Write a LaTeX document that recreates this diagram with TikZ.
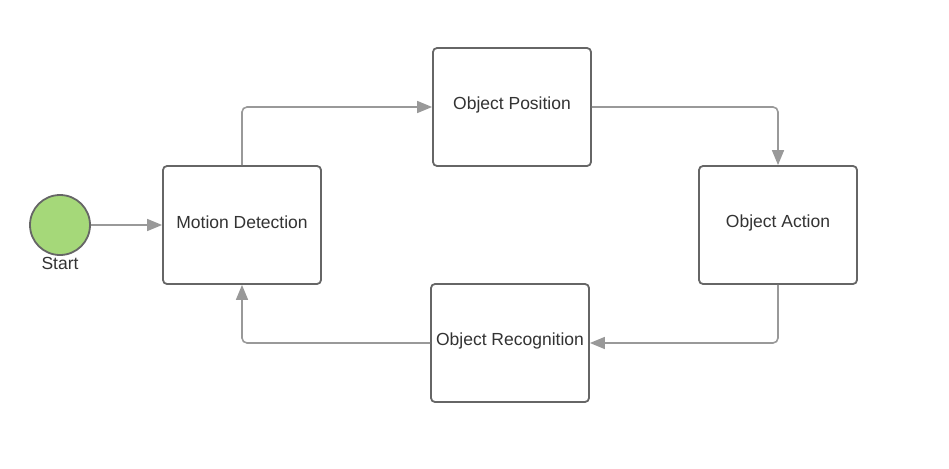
\documentclass[tikz,border=0pt]{standalone}
\usepackage{fontspec}
\setmainfont{Liberation Sans}
\usetikzlibrary{arrows.meta}
\definecolor{linegray}{HTML}{999999}
\definecolor{boxgray}{HTML}{666666}
\definecolor{startgreen}{HTML}{A5D879}
\definecolor{txt}{HTML}{333333}
\newcommand{\up}[1]{\raisebox{2.5pt}[\height][\depth]{#1}}
\begin{document}
\begin{tikzpicture}[x=1pt,y=-1pt,
  stepbox/.style={draw=boxgray,line width=1.8pt,fill=white,rounded corners=4pt,
    minimum width=158pt,minimum height=118pt,inner sep=0pt,text=txt,
    font=\fontsize{17.5}{20}\selectfont},
  startnode/.style={circle,draw=boxgray,line width=1.8pt,fill=startgreen,minimum size=60pt,inner sep=0pt},
  conn/.style={draw=linegray,line width=1.6pt,rounded corners=5pt,
    -{Triangle[length=15pt,width=12pt]}},
  lbl/.style={text=txt,font=\fontsize{17.5}{20}\selectfont,inner sep=0pt}]
\useasboundingbox (0,0) rectangle (949,468);
\node[startnode] (start) at (60,225) {};
\node[lbl] (startlbl) at (60,263) {Start};
\node[stepbox] (md) at (242,225) {\up{Motion Detection}};
\node[stepbox] (op) at (512,107) {\up{Object Position}};
\node[stepbox] (oa) at (778,225) {\up{Object Action}};
\node[stepbox] (or) at (510,343) {\up{Object Recognition}};
\draw[conn] (start.east) -- (md.west);
\draw[conn] (md.north) |- (op.west);
\draw[conn] (op.east) -| (oa.north);
\draw[conn] (oa.south) |- (or.east);
\draw[conn] (or.west) -| (md.south);
\end{tikzpicture}
\end{document}
